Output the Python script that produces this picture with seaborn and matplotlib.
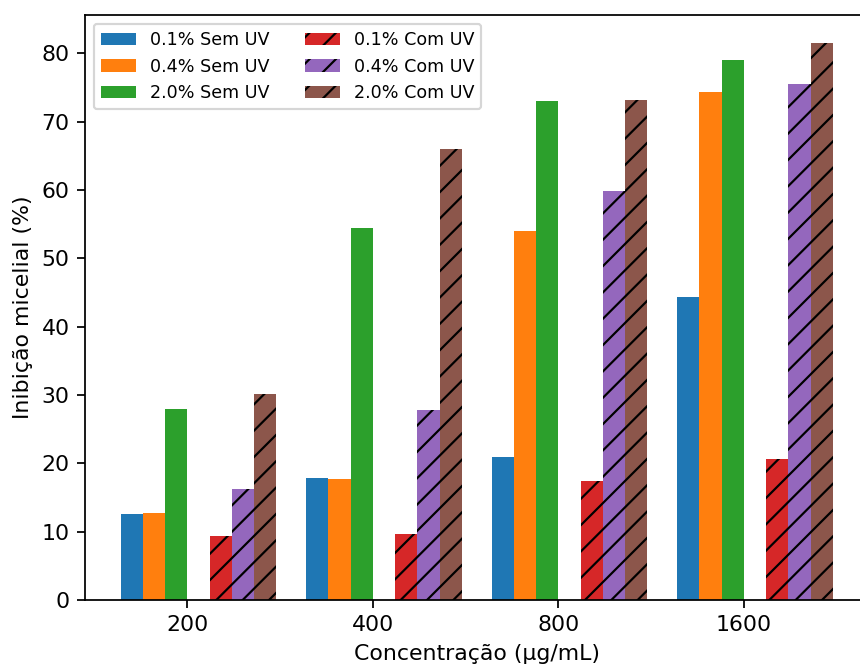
import numpy as np
import pandas as pd
import matplotlib
matplotlib.use("Agg")
import matplotlib.pyplot as plt
import seaborn as sns

# Concentrations tested and inhibition (%) per treatment
concentrations = ["200", "400", "800", "1600"]

sem_uv_01 = [12.6, 17.9, 20.9, 44.3]
sem_uv_04 = [12.8, 17.7, 54.0, 74.4]
sem_uv_20 = [27.9, 54.4, 73.0, 79.0]
com_uv_01 = [9.4, 9.7, 17.4, 20.7]
com_uv_04 = [16.3, 27.8, 59.8, 75.5]
com_uv_20 = [30.2, 66.0, 73.2, 81.5]

series_labels = ["0.1% Sem UV", "0.4% Sem UV", "2.0% Sem UV",
                 "0.1% Com UV", "0.4% Com UV", "2.0% Com UV"]
series_values = [sem_uv_01, sem_uv_04, sem_uv_20,
                 com_uv_01, com_uv_04, com_uv_20]
series_colors = ["#1f77b4", "#ff7f0e", "#2ca02c",
                 "#d62728", "#9467bd", "#8c564b"]

bar_w = 0.12
# slot index within a group (slot 3 left empty between the two sets)
slots = [0, 1, 2, 4, 5, 6]

dpi = 158
fig = plt.figure(figsize=(860 / dpi, 666 / dpi), dpi=dpi)
ax = fig.add_axes([85 / 860, 66 / 666, (868.5 - 85) / 860, 585 / 666])

base = np.arange(len(concentrations))
for label, vals, color, slot in zip(series_labels, series_values, series_colors, slots):
    pos = base + (slot - 2.5) * bar_w
    df = pd.DataFrame({"pos": pos, "val": vals})
    hatched = slot > 3
    sns.barplot(data=df, x="pos", y="val", native_scale=True, width=bar_w,
                color=color, saturation=1, errorbar=None, ax=ax,
                label=label, hatch="//" if hatched else None,
                edgecolor="black" if hatched else color, linewidth=0)

ax.set_xticks(base)
ax.set_xticklabels(concentrations)
ax.set_xlabel("Concentração (µg/mL)")
ax.set_ylabel("Inibição micelial (%)")
ax.margins(x=0.05, y=0.05)
ax.set_ylim(0, 85.6)
ax.legend(ncol=2, loc="upper left", fontsize=8)

fig.savefig("out.png", dpi=dpi)
